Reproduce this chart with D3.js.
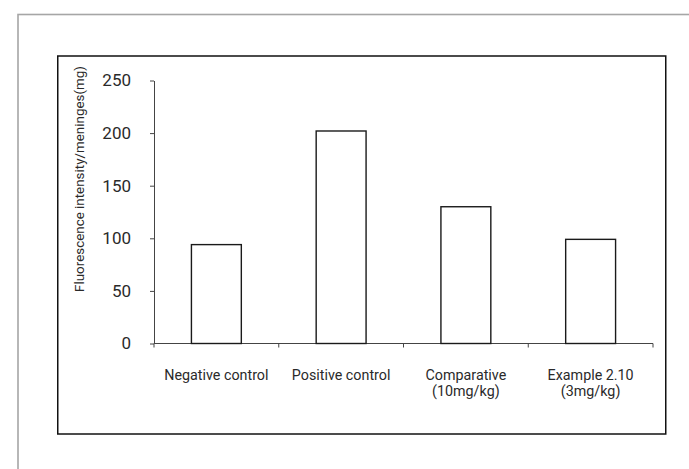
<!DOCTYPE html>
<html>
<head>
<meta charset="utf-8">
<script src="https://cdn.jsdelivr.net/npm/d3@7/dist/d3.min.js"></script>
<style>
  html, body { margin: 0; padding: 0; background: #fff; }
  svg { display: block; }
  text { font-family: Roboto, "DejaVu Sans", sans-serif; fill: #2a2a2a; }
</style>
</head>
<body>
<svg id="chart" width="689" height="469"></svg>
<script>
// Groups and measured fluorescence per group
const categories = [
  ["Negative control"],
  ["Positive control"],
  ["Comparative", "(10mg/kg)"],
  ["Example 2.10", "(3mg/kg)"]
];
const values = [94, 202, 130, 99];
const yTicks = [0, 50, 100, 150, 200, 250];
const yTitle = "Fluorescence intensity/meninges(mg)";

const svg = d3.select("#chart");
const keys = categories.map(c => c.join(" "));

// Outer page frame (gray) and chart frame (black)
svg.append("rect")
  .attr("x", 18).attr("y", 14.5).attr("width", 700).attr("height", 500)
  .attr("fill", "none").attr("stroke", "#a6a6a6").attr("stroke-width", 1.6);
svg.append("rect")
  .attr("x", 57.75).attr("y", 56).attr("width", 608).attr("height", 378)
  .attr("fill", "none").attr("stroke", "#111").attr("stroke-width", 1.5);

const x = d3.scaleBand().domain(keys).range([154, 653]).padding(0);
const y = d3.scaleLinear().domain([0, 250]).range([343.5, 80.5]);

// Y axis
const yAxis = svg.append("g")
  .attr("transform", "translate(154,0)")
  .call(d3.axisLeft(y).tickValues(yTicks).tickSize(4).tickSizeOuter(0).tickPadding(19));
yAxis.select(".domain").attr("stroke", "#444");
yAxis.selectAll(".tick line").attr("stroke", "#444");
yAxis.selectAll(".tick text")
  .attr("font-size", 17).attr("fill", "#2a2a2a")
  .style("font-family", "Roboto, sans-serif");

// X axis line with ticks at group boundaries
const xAxis = svg.append("g").attr("transform", `translate(0,${y(0)})`);
xAxis.append("line")
  .attr("x1", x.range()[0]).attr("x2", x.range()[1])
  .attr("stroke", "#444");
const bounds = keys.map(k => x(k)).concat([x.range()[1]]);
xAxis.selectAll("line.tk").data(bounds).enter().append("line")
  .attr("class", "tk")
  .attr("x1", d => d).attr("x2", d => d)
  .attr("y1", 0).attr("y2", 4)
  .attr("stroke", "#444");

// Bars
const barW = x.bandwidth() * 0.4;
svg.selectAll("rect.bar").data(values).enter().append("rect")
  .attr("class", "bar")
  .attr("x", (d, i) => x(keys[i]) + (x.bandwidth() - barW) / 2)
  .attr("y", d => y(d))
  .attr("width", barW)
  .attr("height", d => y(0) - y(d))
  .attr("fill", "#fff")
  .attr("stroke", "#1a1a1a")
  .attr("stroke-width", 1.4);

// Category labels, one text per line
const lines = [];
categories.forEach((c, i) => c.forEach((s, j) => lines.push({ s, i, j })));
svg.selectAll("text.cat").data(lines).enter().append("text")
  .attr("class", "cat")
  .attr("text-anchor", "middle")
  .attr("font-size", 14.3)
  .attr("x", d => x(keys[d.i]) + x.bandwidth() / 2)
  .attr("y", d => 379.5 + d.j * 16.8)
  .text(d => d.s);

// Y title
svg.append("text")
  .attr("transform", "translate(84,179) rotate(-90)")
  .attr("text-anchor", "middle")
  .attr("font-size", 13.4)
  .text(yTitle);
</script>
</body>
</html>
